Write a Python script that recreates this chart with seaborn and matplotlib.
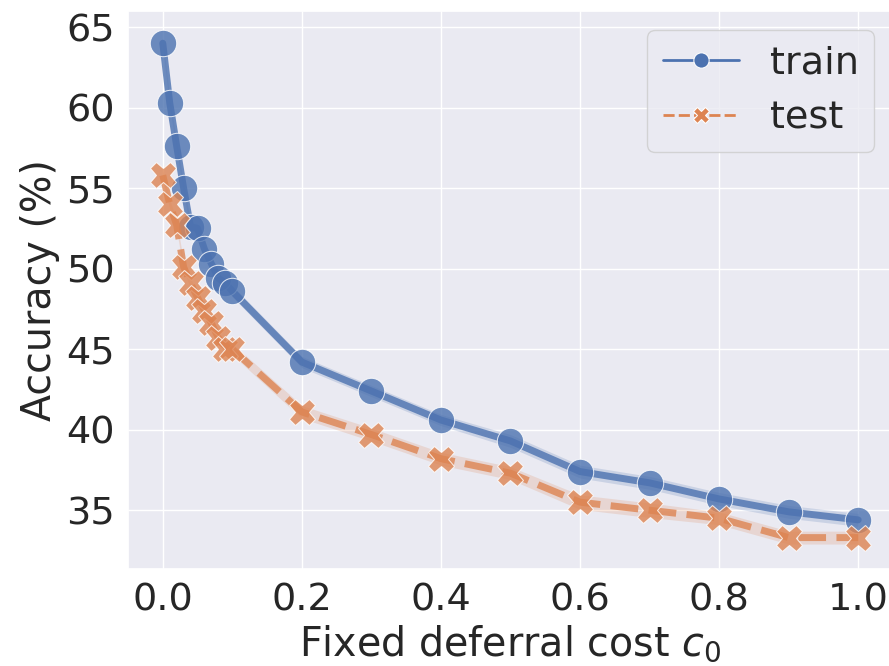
import numpy as np
import pandas as pd
import matplotlib.pyplot as plt
import seaborn as sns

costs = [0.0, 0.01, 0.02, 0.03, 0.04, 0.05, 0.06, 0.07, 0.08, 0.09, 0.1,
         0.2, 0.3, 0.4, 0.5, 0.6, 0.7, 0.8, 0.9, 1.0]
train_acc = [64.0, 60.3, 57.6, 55.0, 52.6, 52.5, 51.2, 50.3, 49.4, 49.1, 48.6,
             44.2, 42.4, 40.6, 39.3, 37.4, 36.7, 35.7, 34.9, 34.4]
test_acc = [55.8, 54.0, 52.7, 50.1, 49.1, 48.2, 47.4, 46.6, 45.7, 45.0, 45.0,
            41.1, 39.7, 38.2, 37.3, 35.5, 35.0, 34.5, 33.3, 33.3]
# half widths of the shaded bands
train_err = [0.3, 0.3, 0.3, 0.3, 0.3, 0.3, 0.3, 0.3, 0.3, 0.3, 0.35,
             0.35, 0.35, 0.35, 0.4, 0.4, 0.4, 0.4, 0.4, 0.4]
test_err = [0.3, 0.3, 0.3, 0.3, 0.3, 0.3, 0.3, 0.3, 0.3, 0.3, 0.35,
            0.4, 0.4, 0.4, 0.4, 0.45, 0.45, 0.4, 0.4, 0.4]
splits = ['train', 'test']

df = pd.DataFrame({
    'cost': costs * 2,
    'acc': train_acc + test_acc,
    'split': ['train'] * len(costs) + ['test'] * len(costs),
})

sns.set_theme(style='darkgrid')
plt.rcParams['font.family'] = ['DejaVu Sans']

fig = plt.figure(figsize=(8.89, 6.66), dpi=100)
ax = fig.add_axes([128 / 889, 97 / 666, 765 / 889, 558 / 666])

colors = sns.color_palette('deep', 2)
sns.lineplot(data=df, x='cost', y='acc', hue='split', style='split',
             hue_order=splits, style_order=splits, markers=True,
             errorbar=None, linewidth=5, markersize=19, alpha=0.8,
             palette=colors, ax=ax)

for vals, errs, c in [(train_acc, train_err, colors[0]), (test_acc, test_err, colors[1])]:
    v = np.array(vals)
    e = np.array(errs)
    ax.fill_between(costs, v - e, v + e, color=c, alpha=0.2, linewidth=0)

ax.set_xlim(-0.05, 1.05)
ax.set_ylim(31.35, 66.0)
ax.set_yticks([35, 40, 45, 50, 55, 60, 65])
ax.tick_params(labelsize=27.5)
ax.set_xlabel('Fixed deferral cost $c_0$', fontsize=28.5)
ax.set_ylabel('Accuracy (%)', fontsize=28.5)

leg = ax.legend(loc='upper right', fontsize=27.5)
for h in leg.legend_handles:
    h.set_linewidth(2)
    h.set_markersize(11)
    h.set_alpha(1)

fig.savefig('out.png', dpi=100)
